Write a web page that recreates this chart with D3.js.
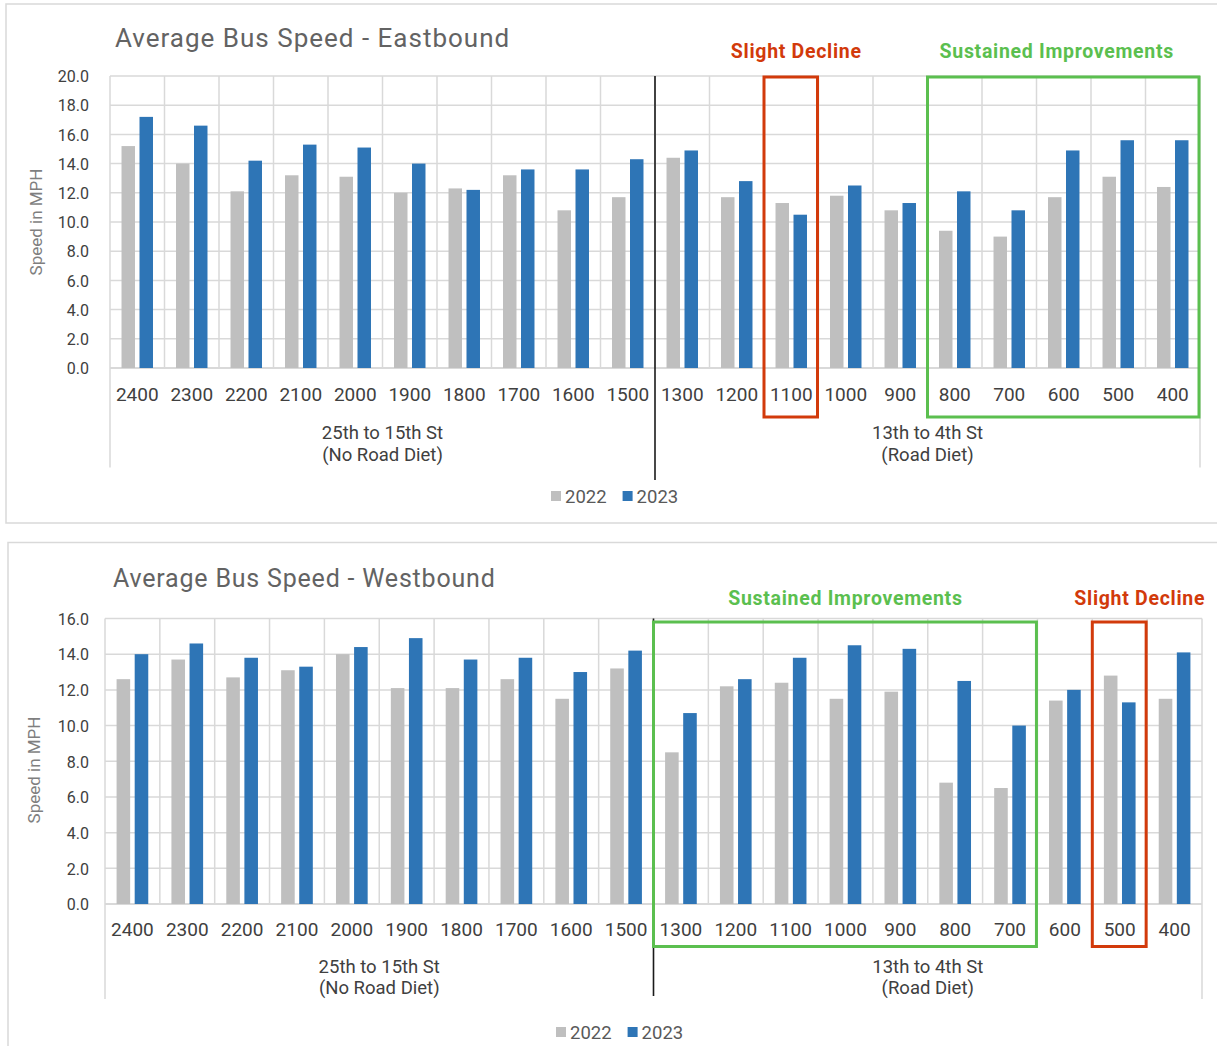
<!DOCTYPE html>
<html>
<head>
<meta charset="utf-8">
<script src="https://cdn.jsdelivr.net/npm/d3@7"></script>
<style>
  html, body { margin: 0; padding: 0; background: #fff; }
  svg { display: block; }
  text { font-family: Roboto, "DejaVu Sans", sans-serif; }
</style>
</head>
<body>
<svg id="chart" width="1217" height="1046"></svg>
<script>
// Block numbers along the corridor (west to east), shared by both directions
const blocks = ["2400", "2300", "2200", "2100", "2000", "1900", "1800", "1700", "1600", "1500",
                "1300", "1200", "1100", "1000", "900", "800", "700", "600", "500", "400"];

// Corridor segments: label lines and the first block of each
const segmentLabels = [["25th to 15th St", "(No Road Diet)"], ["13th to 4th St", "(Road Diet)"]];
const segmentStarts = ["2400", "1300"];

const years = ["2022", "2023"];

// Average bus speed (mph) per block
const eastbound2022 = [15.2, 14.0, 12.1, 13.2, 13.1, 12.0, 12.3, 13.2, 10.8, 11.7,
                       14.4, 11.7, 11.3, 11.8, 10.8, 9.4, 9.0, 11.7, 13.1, 12.4];
const eastbound2023 = [17.2, 16.6, 14.2, 15.3, 15.1, 14.0, 12.2, 13.6, 13.6, 14.3,
                       14.9, 12.8, 10.5, 12.5, 11.3, 12.1, 10.8, 14.9, 15.6, 15.6];
const westbound2022 = [12.6, 13.7, 12.7, 13.1, 14.0, 12.1, 12.1, 12.6, 11.5, 13.2,
                       8.5, 12.2, 12.4, 11.5, 11.9, 6.8, 6.5, 11.4, 12.8, 11.5];
const westbound2023 = [14.0, 14.6, 13.8, 13.3, 14.4, 14.9, 13.7, 13.8, 13.0, 14.2,
                       10.7, 12.6, 13.8, 14.5, 14.3, 12.5, 10.0, 12.0, 11.3, 14.1];

// Y axis tick values
const eastTicks = [0, 2, 4, 6, 8, 10, 12, 14, 16, 18, 20];
const westTicks = [0, 2, 4, 6, 8, 10, 12, 14, 16];

// Highlighted block ranges
const eastHighlights = [
  { kind: "decline", label: "Slight Decline", from: "1100", to: "1100" },
  { kind: "improve", label: "Sustained Improvements", from: "800", to: "400" }
];
const westHighlights = [
  { kind: "improve", label: "Sustained Improvements", from: "1300", to: "700" },
  { kind: "decline", label: "Slight Decline", from: "500", to: "500" }
];

const yearColor = { "2022": "#bfbfbf", "2023": "#2e75b6" };
const highlightColor = { decline: "#d23a0b", improve: "#5bbf4f" };
const gridColor = "#d9d9d9";

const svg = d3.select("#chart");

function drawChart(cfg) {
  const g = svg.append("g");

  // panel frame
  g.append("rect")
    .attr("x", cfg.panel.x).attr("y", cfg.panel.y)
    .attr("width", cfg.panel.w).attr("height", cfg.panel.h)
    .attr("fill", "#fff").attr("stroke", gridColor).attr("stroke-width", 1.5);

  // title
  g.append("text")
    .attr("x", cfg.titleX).attr("y", cfg.titleY)
    .attr("font-size", cfg.titleSize).attr("fill", "#636363")
    .attr("letter-spacing", cfg.titleSpacing)
    .text(cfg.title);

  const x0 = d3.scaleBand().domain(blocks).range([cfg.left, cfg.right]).paddingInner(0).paddingOuter(0);
  const x1 = d3.scaleBand().domain(years).range([0, x0.bandwidth()]).paddingInner(0.25).paddingOuter(0.64);
  const y = d3.scaleLinear().domain([0, d3.max(cfg.ticks)]).range([cfg.bottom, cfg.top]);

  // horizontal gridlines
  g.append("g").selectAll("line").data(cfg.ticks).join("line")
    .attr("x1", cfg.left).attr("x2", cfg.right)
    .attr("y1", d => y(d)).attr("y2", d => y(d))
    .attr("stroke", gridColor).attr("stroke-width", d => d === 0 ? 2 : 1.5);

  // vertical gridlines at block boundaries
  const inner = blocks.slice(1);
  g.append("g").selectAll("line").data(inner).join("line")
    .attr("x1", d => x0(d)).attr("x2", d => x0(d))
    .attr("y1", y(d3.max(cfg.ticks))).attr("y2", y(0))
    .attr("stroke", gridColor).attr("stroke-width", 1.5);

  // outer category axis edges extending under the labels
  [cfg.left, cfg.right].forEach(xx => {
    g.append("line")
      .attr("x1", xx).attr("x2", xx)
      .attr("y1", y(d3.max(cfg.ticks))).attr("y2", cfg.edgeBottom)
      .attr("stroke", gridColor).attr("stroke-width", 1.5);
  });

  // y axis labels
  const yAxis = d3.axisLeft(y).tickValues(cfg.ticks).tickFormat(d3.format(".1f")).tickSize(0).tickPadding(0);
  const ya = g.append("g").attr("transform", `translate(${cfg.yLabelX},0)`).call(yAxis);
  ya.select(".domain").remove();
  ya.selectAll("text")
    .attr("font-family", "Roboto, sans-serif").attr("font-size", cfg.yTickSize)
    .attr("fill", "#404040").attr("dy", "0.36em");

  // y axis title
  g.append("text")
    .attr("transform", `translate(${cfg.yTitleX},${cfg.yTitleY}) rotate(-90)`)
    .attr("text-anchor", "middle").attr("font-size", 17).attr("fill", "#7f7f7f")
    .text("Speed in MPH");

  // bars
  const rows = blocks.map((b, i) => ({ block: b, values: [cfg.s2022[i], cfg.s2023[i]] }));
  const cat = g.append("g").selectAll("g").data(rows).join("g")
    .attr("transform", d => `translate(${x0(d.block)},0)`);
  cat.selectAll("rect").data(d => years.map((yr, k) => ({ year: yr, v: d.values[k] }))).join("rect")
    .attr("x", d => x1(d.year)).attr("width", x1.bandwidth())
    .attr("y", d => y(d.v)).attr("height", d => y(0) - y(d.v))
    .attr("fill", d => yearColor[d.year]);

  // category labels
  g.append("g").selectAll("text").data(blocks).join("text")
    .attr("x", d => x0(d) + x0.bandwidth() / 2).attr("y", cfg.catY)
    .attr("text-anchor", "middle").attr("font-size", 19).attr("fill", "#404040")
    .text(d => d);

  // segment labels
  segmentStarts.forEach((s, i) => {
    const a = blocks.indexOf(s);
    const b = i + 1 < segmentStarts.length ? blocks.indexOf(segmentStarts[i + 1]) : blocks.length;
    const cx = (x0(blocks[a]) + x0(blocks[b - 1]) + x0.bandwidth()) / 2;
    segmentLabels[i].forEach((line, j) => {
      g.append("text")
        .attr("x", cx).attr("y", cfg.segY[j])
        .attr("text-anchor", "middle").attr("font-size", 18.5).attr("fill", "#404040")
        .text(line);
    });
  });

  // divider between segments
  const dx = x0(segmentStarts[1]);
  g.append("line")
    .attr("x1", dx).attr("x2", dx)
    .attr("y1", y(d3.max(cfg.ticks))).attr("y2", cfg.dividerBottom)
    .attr("stroke", "#1a1a1a").attr("stroke-width", 1.6);

  // highlight boxes and their labels
  cfg.highlights.forEach((h, i) => {
    const xa = x0(h.from), xb = x0(h.to) + x0.bandwidth();
    const col = highlightColor[h.kind];
    g.append("rect")
      .attr("x", xa).attr("y", cfg.boxTop)
      .attr("width", xb - xa - 1).attr("height", cfg.boxBottom - cfg.boxTop)
      .attr("fill", "none").attr("stroke", col).attr("stroke-width", 3);
    g.append("text")
      .attr("x", (xa + xb) / 2 + cfg.labelDx[i]).attr("y", cfg.labelY)
      .attr("text-anchor", "middle")
      .attr("font-family", "'Open Sans', sans-serif").attr("font-weight", 700)
      .attr("font-size", 19.5).attr("letter-spacing", 0.7).attr("fill", col)
      .text(h.label);
  });

  // legend
  const lg = g.append("g");
  let lx = cfg.legendX;
  years.forEach(yr => {
    lg.append("rect").attr("x", lx).attr("y", cfg.legendY - 12).attr("width", 10).attr("height", 10)
      .attr("fill", yearColor[yr]);
    const t = lg.append("text").attr("x", lx + 14).attr("y", cfg.legendY)
      .attr("font-size", 18.5).attr("fill", "#595959").text(yr);
    lx += 14 + t.node().getComputedTextLength() + 16;
  });
}

drawChart({
  title: "Average Bus Speed - Eastbound", titleX: 115, titleY: 47, titleSize: 26, titleSpacing: 1,
  panel: { x: 6, y: 4, w: 1225, h: 519 },
  left: 110, right: 1200, top: 76, bottom: 368,
  ticks: eastTicks, s2022: eastbound2022, s2023: eastbound2023,
  yLabelX: 89, yTickSize: 16, yTitleX: 42, yTitleY: 222,
  catY: 401, segY: [439, 461], edgeBottom: 467.5, dividerBottom: 480,
  highlights: eastHighlights, boxTop: 77, boxBottom: 417, labelY: 58, labelDx: [5, -7],
  legendX: 551, legendY: 503
});

drawChart({
  title: "Average Bus Speed - Westbound", titleX: 113, titleY: 586.5, titleSize: 25, titleSpacing: 0.8,
  panel: { x: 8, y: 542.5, w: 1225, h: 520 },
  left: 105, right: 1202, top: 618.5, bottom: 904,
  ticks: westTicks, s2022: westbound2022, s2023: westbound2023,
  yLabelX: 89, yTickSize: 16, yTitleX: 40, yTitleY: 770,
  catY: 936, segY: [972.5, 994], edgeBottom: 999, dividerBottom: 996,
  highlights: westHighlights, boxTop: 622, boxBottom: 946.5, labelY: 605, labelDx: [0, 20],
  legendX: 556, legendY: 1039
});
</script>
</body>
</html>
